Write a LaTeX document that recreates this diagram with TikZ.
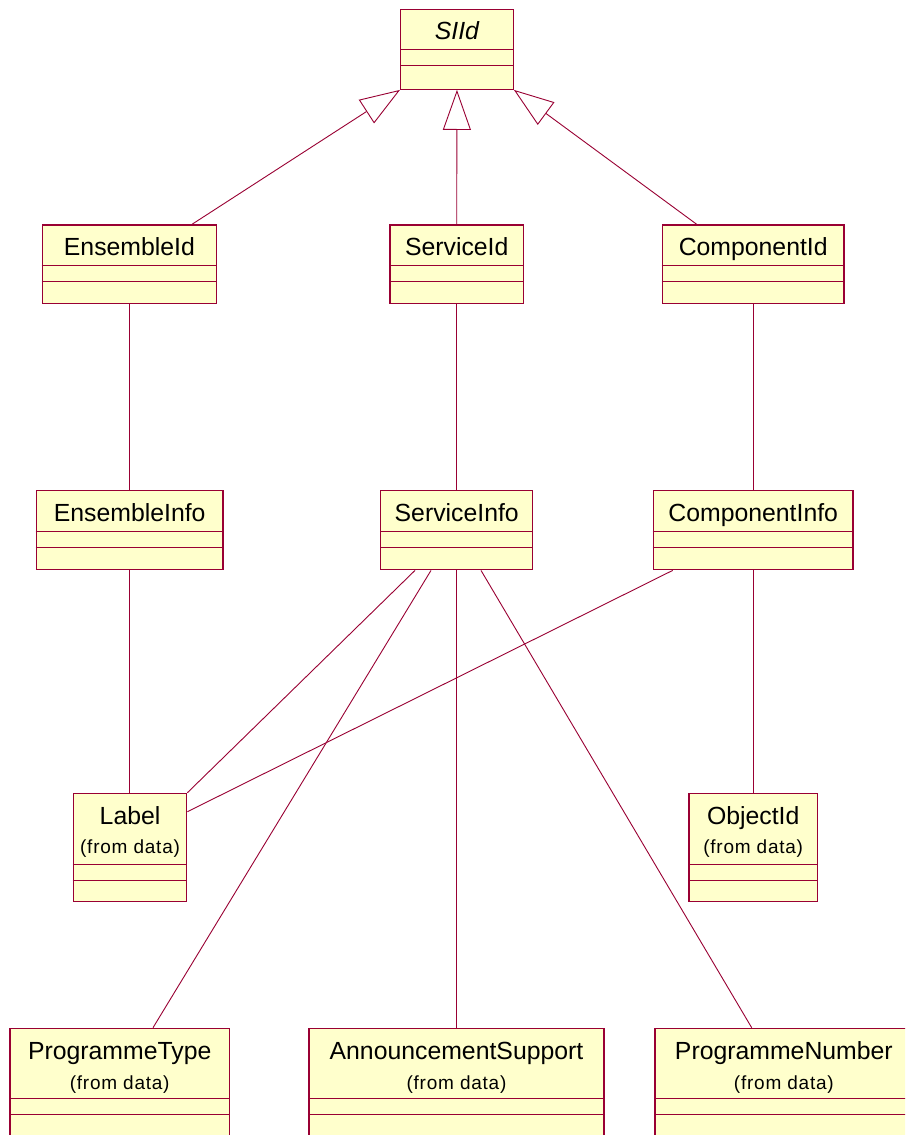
\documentclass[tikz,border=0pt]{standalone}
\usepackage{fontspec}
\setmainfont{Liberation Sans}
\newfontfamily\originfont[LetterSpace=4]{Liberation Sans}
\usetikzlibrary{arrows.meta}

\definecolor{umlline}{RGB}{153,0,51}
\definecolor{umlfill}{RGB}{255,255,204}

\tikzset{
  classbox/.style={draw=umlline, fill=umlfill, line width=1.4pt, inner sep=0pt,
                   anchor=north west, rectangle},
  divider/.style={draw=umlline, line width=1pt},
  link/.style={draw=umlline, line width=0.9pt},
  inherit/.style={link, -{Triangle[open, length=40pt, width=28pt, fill=white]}},
  classname/.style={font=\fontsize{24.8}{28}\selectfont, anchor=base, inner sep=0pt},
  origin/.style={font=\originfont\fontsize{19}{22}\selectfont, anchor=base, inner sep=0pt},
}

% \umlclass{name}{left}{top}{right}{bottom}{first divider offset}
\newcommand\umlclass[6]{%
  \node[classbox, minimum width={#4pt-#2pt}, minimum height={#5pt-#3pt}] (#1) at (#2,-#3) {};
  \draw[divider] ([yshift=-#6pt]#1.north west) -- ([yshift=-#6pt]#1.north east);
  \draw[divider] ([yshift=-#6pt-16pt]#1.north west) -- ([yshift=-#6pt-16pt]#1.north east);
}

\begin{document}
\begin{tikzpicture}[x=1pt, y=1pt]
\path[use as bounding box] (0,0) rectangle (905,-1135);
\clip (0,0) rectangle (905,-1135);
\fill[white] (0,0) rectangle (905,-1135);

% class boxes
\umlclass{siid}{400}{8.5}{512.5}{88.5}{41}
\umlclass{ensid}{41.7}{224.3}{215.7}{303}{41.5}
\umlclass{servid}{389.3}{224.3}{522.7}{303}{41.5}
\umlclass{compid}{661.7}{224.3}{843.3}{303}{41.5}
\umlclass{ensinfo}{35.7}{490}{222.3}{569}{41.5}
\umlclass{servinfo}{380}{490}{532}{569}{41.5}
\umlclass{compinfo}{652.7}{490}{852.3}{569}{41.5}
\umlclass{label}{72.7}{792.7}{186}{900.5}{71.5}
\umlclass{objid}{688.3}{792.7}{816.7}{900.5}{71.5}
\umlclass{progtype}{9.3}{1027.7}{228.7}{1160}{70.6}
\umlclass{annsup}{308.3}{1027.7}{603.3}{1160}{70.6}
\umlclass{prognum}{654.3}{1027.7}{912}{1160}{70.6}

% class names
\node[classname] (siid-t) at ([yshift=-31pt]siid.north) {\itshape SIId};
\node[classname] (ensid-t) at ([yshift=-31.5pt]ensid.north) {EnsembleId};
\node[classname] (servid-t) at ([yshift=-31.5pt]servid.north) {ServiceId};
\node[classname] (compid-t) at ([yshift=-31.5pt]compid.north) {ComponentId};
\node[classname] (ensinfo-t) at ([yshift=-31.5pt]ensinfo.north) {EnsembleInfo};
\node[classname] (servinfo-t) at ([yshift=-31.5pt]servinfo.north) {ServiceInfo};
\node[classname] (compinfo-t) at ([yshift=-31.5pt]compinfo.north) {ComponentInfo};
\node[classname] (label-t) at ([yshift=-31.5pt]label.north) {Label};
\node[classname] (objid-t) at ([yshift=-31.5pt]objid.north) {ObjectId};
\node[classname] (progtype-t) at ([yshift=-32pt]progtype.north) {ProgrammeType};
\node[classname] (annsup-t) at ([yshift=-32pt]annsup.north) {AnnouncementSupport};
\node[classname] (prognum-t) at ([yshift=-32pt]prognum.north) {ProgrammeNumber};

% package notes
\node[origin] (label-o) at ([yshift=-61pt]label.north) {(from data)};
\node[origin] (objid-o) at ([yshift=-61pt]objid.north) {(from data)};
\node[origin] (progtype-o) at ([yshift=-62pt]progtype.north) {(from data)};
\node[origin] (annsup-o) at ([yshift=-62pt]annsup.north) {(from data)};
\node[origin] (prognum-o) at ([yshift=-62pt]prognum.north) {(from data)};

% generalizations
\draw[inherit] ([xshift=150.3pt]ensid.north west) -- (siid.south west);
\draw[inherit] (servid.north) -- (siid.south);
\draw[inherit] ([xshift=35pt]compid.north west) -- (siid.south east);

% associations
\draw[link] (ensid.south -| ensinfo.north) -- (ensinfo.north);
\draw[link] (servid.south) -- (servid.south |- servinfo.north);
\draw[link] (compid.south -| objid.north) -- (compinfo.north -| objid.north);
\draw[link] (ensinfo.south) -- (ensinfo.south |- label.north);
\draw[link] ([xshift=35pt]servinfo.south west) -- (label.north east);
\draw[link] ([xshift=20pt]compinfo.south west) -- ([yshift=-19pt]label.north east);
\draw[link] ([xshift=51pt]servinfo.south west) -- ([xshift=143.7pt]progtype.north west);
\draw[link] (servinfo.south -| annsup.north) -- (annsup.north);
\draw[link] ([xshift=101pt]servinfo.south west) -- ([xshift=97.4pt]prognum.north west);
\draw[link] (compinfo.south -| objid.north) -- (objid.north);
\end{tikzpicture}
\end{document}
